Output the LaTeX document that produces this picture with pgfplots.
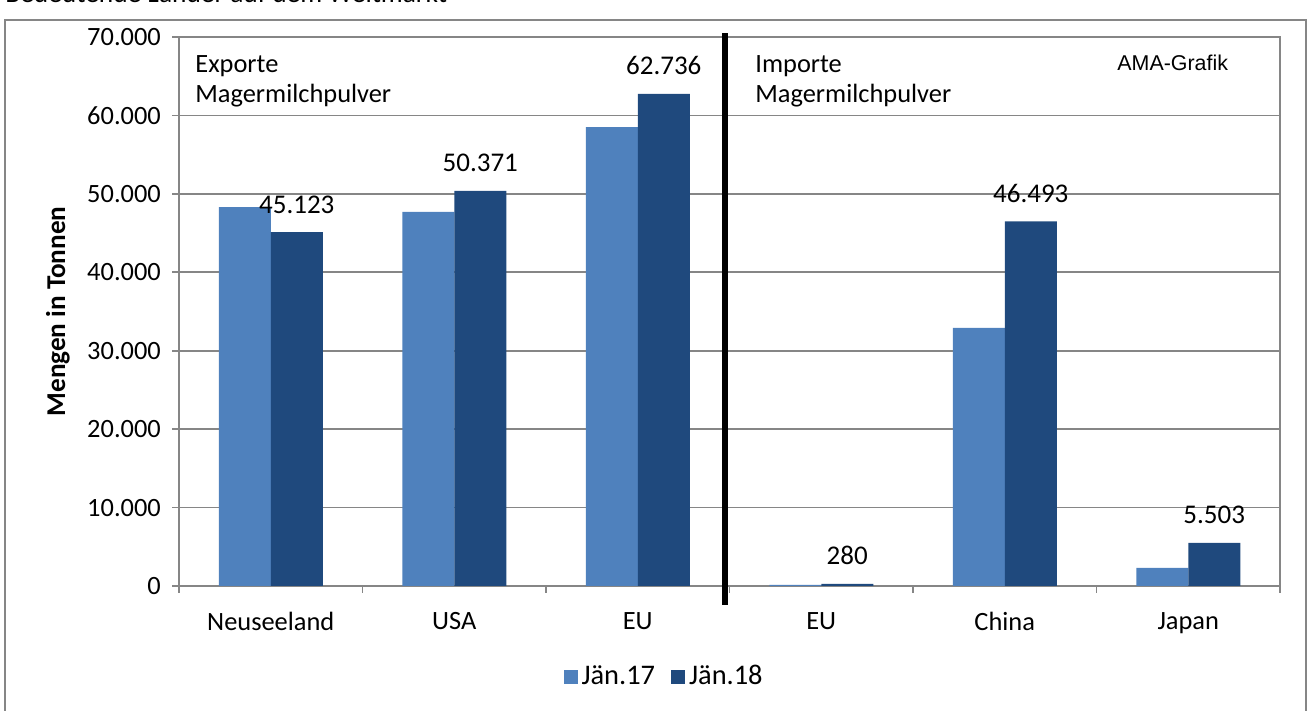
\documentclass[border=0pt]{standalone}
\usepackage{fontspec}
\setmainfont{Carlito}
\newfontfamily\arial{Liberation Sans}
\usepackage{pgfplots}
\pgfplotsset{compat=1.18}

\definecolor{lightbar}{RGB}{79,129,189}
\definecolor{darkbar}{RGB}{31,73,125}
\definecolor{framegray}{RGB}{134,134,134}

\begin{document}
\fontsize{13.2}{15.8}\selectfont
\begin{tikzpicture}
% outer frame (bottom edge lies below the visible part)
\draw[framegray, line width=0.6pt] (2.5pt,-5pt) -- (2.5pt,345.5pt) -- (653pt,345.5pt) -- (653pt,-5pt);
\node[anchor=base west, inner sep=0pt, font=\fontsize{13.7}{16}\selectfont] at (2.5pt,354pt) {Bedeutende Länder auf dem Weltmarkt};

\begin{axis}[
    at={(89.5pt,62.5pt)}, anchor=south west,
    scale only axis,
    width=550.5pt, height=274.5pt,
    ybar=0pt, bar width=26pt,
    legend image code/.code={\fill[#1,draw=none] (0pt,-3.5pt) rectangle (7pt,3.5pt);},
    xmin=-0.5, xmax=5.5,
    ymin=0, ymax=70000,
    xtick={-0.5,0.5,...,5.5},
    x tick label as interval,
    xticklabels={Neuseeland,USA,EU,EU,China,Japan},
    ytick={0,10000,...,70000},
    scaled y ticks=false,
    /pgf/number format/.cd, 1000 sep={.}, fixed, precision=0, assume math mode=true,
    /pgfplots/.cd,
    tick pos=left,
    tick align=outside,
    major tick length=3.5pt,
    tick style={framegray, line width=0.8pt},
    axis line style={framegray, line width=0.8pt},
    ymajorgrids=true,
    grid style={framegray, line width=0.8pt},
    every axis y label/.style={at={(axis description cs:-0.1099,0.5)}, rotate=90, anchor=center,
        font=\bfseries\fontsize{13.6}{16}\selectfont},
    ylabel={Mengen in Tonnen},
    xticklabel style={yshift=-5pt},
    yticklabel style={font=\fontsize{13.2}{16}\selectfont, xshift=-1pt},
    legend style={at={(0.4415,-0.166)}, anchor=center, draw=none, legend columns=2,
        font=\fontsize{14.2}{17}\selectfont,
        /tikz/every even column/.append style={column sep=6pt}, inner sep=0pt},
    clip=false,
]
\addplot[fill=lightbar, draw=none] coordinates {
    (0,48300) (1,47700) (2,58500) (3,150) (4,32900) (5,2300)
};
\addlegendentry{Jän.17}
\addplot[fill=darkbar, draw=none,
    nodes near coords={\pgfmathprintnumber[1000 sep={.},fixed,precision=0]{\pgfplotspointmeta}},
    every node near coord/.append style={black, yshift=4.8pt, font=\fontsize{13.5}{16}\selectfont}] coordinates {
    (0,45123) (1,50371) (2,62736) (3,280) (4,46493) (5,5503)
};
\addlegendentry{Jän.18}
\draw[black, line width=3pt] (axis cs:2.475,-2420) -- (axis cs:2.475,70510);
\end{axis}

\node[anchor=base west, inner sep=0pt] at (97.5pt,319pt) {Exporte};
\node[anchor=base west, inner sep=0pt] at (97.5pt,304pt) {Magermilchpulver};
\node[anchor=base west, inner sep=0pt] at (377.5pt,319pt) {Importe};
\node[anchor=base west, inner sep=0pt] at (377.5pt,304pt) {Magermilchpulver};
\node[anchor=base west, inner sep=0pt, font=\arial\fontsize{10.7}{12}\selectfont] at (558.5pt,320pt) {AMA-Grafik};

\pgfresetboundingbox
\useasboundingbox (0pt,0pt) rectangle (656pt,355.5pt);
\end{tikzpicture}
\end{document}
